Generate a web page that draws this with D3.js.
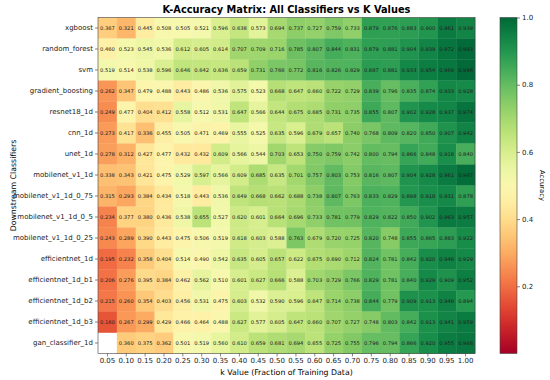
<!DOCTYPE html>
<html>
<head>
<meta charset="utf-8">
<script src="https://cdn.jsdelivr.net/npm/d3@7"></script>
<style>
  body { margin: 0; background: #fff; }
  text { font-family: "DejaVu Sans", sans-serif; }
</style>
</head>
<body>
<div id="chart"></div>
<script>
var classifiers = ['xgboost', 'random_forest', 'svm', 'gradient_boosting', 'resnet18_1d', 'cnn_1d', 'unet_1d',
  'mobilenet_v1_1d', 'mobilenet_v1_1d_0_75', 'mobilenet_v1_1d_0_5', 'mobilenet_v1_1d_0_25',
  'efficientnet_1d', 'efficientnet_1d_b1', 'efficientnet_1d_b2', 'efficientnet_1d_b3', 'gan_classifier_1d']

var kValues = ['0.05', '0.10', '0.15', '0.20', '0.25', '0.30', '0.35', '0.40', '0.45', '0.50',
  '0.55', '0.60', '0.65', '0.70', '0.75', '0.80', '0.85', '0.90', '0.95', '1.00']

var accuracy = [
  [0.367, 0.321, 0.445, 0.508, 0.505, 0.521, 0.596, 0.638, 0.573, 0.694, 0.737, 0.727, 0.759, 0.733, 0.879, 0.876, 0.883, 0.900, 0.961, 0.939],
  [0.460, 0.523, 0.545, 0.536, 0.612, 0.605, 0.614, 0.707, 0.709, 0.716, 0.785, 0.807, 0.844, 0.831, 0.879, 0.881, 0.904, 0.939, 0.972, 0.993],
  [0.519, 0.514, 0.538, 0.596, 0.646, 0.642, 0.636, 0.659, 0.731, 0.766, 0.772, 0.816, 0.826, 0.829, 0.887, 0.881, 0.933, 0.954, 0.969, 0.996],
  [0.262, 0.347, 0.479, 0.488, 0.443, 0.486, 0.536, 0.575, 0.523, 0.668, 0.647, 0.660, 0.722, 0.729, 0.839, 0.796, 0.835, 0.874, 0.933, 0.928],
  [0.249, 0.477, 0.404, 0.412, 0.558, 0.512, 0.531, 0.647, 0.566, 0.644, 0.675, 0.685, 0.731, 0.735, 0.855, 0.807, 0.902, 0.928, 0.937, 0.974],
  [0.273, 0.417, 0.336, 0.455, 0.505, 0.471, 0.469, 0.555, 0.525, 0.635, 0.596, 0.679, 0.657, 0.740, 0.768, 0.809, 0.820, 0.850, 0.907, 0.942],
  [0.278, 0.312, 0.427, 0.477, 0.432, 0.432, 0.609, 0.566, 0.544, 0.703, 0.653, 0.750, 0.759, 0.742, 0.800, 0.794, 0.866, 0.848, 0.918, 0.840],
  [0.338, 0.343, 0.421, 0.475, 0.529, 0.597, 0.566, 0.609, 0.685, 0.635, 0.701, 0.757, 0.803, 0.753, 0.816, 0.807, 0.904, 0.928, 0.961, 0.987],
  [0.315, 0.293, 0.384, 0.434, 0.518, 0.443, 0.536, 0.649, 0.668, 0.662, 0.688, 0.738, 0.807, 0.763, 0.833, 0.829, 0.898, 0.918, 0.931, 0.878],
  [0.234, 0.377, 0.380, 0.436, 0.538, 0.655, 0.527, 0.620, 0.601, 0.664, 0.696, 0.733, 0.781, 0.779, 0.829, 0.822, 0.850, 0.902, 0.963, 0.957],
  [0.243, 0.289, 0.390, 0.443, 0.475, 0.506, 0.519, 0.618, 0.603, 0.588, 0.763, 0.679, 0.720, 0.725, 0.820, 0.748, 0.855, 0.865, 0.883, 0.922],
  [0.195, 0.232, 0.358, 0.404, 0.514, 0.490, 0.542, 0.635, 0.605, 0.657, 0.622, 0.675, 0.690, 0.712, 0.824, 0.781, 0.842, 0.920, 0.946, 0.929],
  [0.206, 0.276, 0.395, 0.384, 0.462, 0.562, 0.510, 0.601, 0.627, 0.666, 0.588, 0.703, 0.729, 0.766, 0.829, 0.781, 0.840, 0.929, 0.909, 0.952],
  [0.215, 0.260, 0.354, 0.403, 0.456, 0.531, 0.475, 0.603, 0.532, 0.590, 0.596, 0.647, 0.714, 0.738, 0.844, 0.779, 0.909, 0.913, 0.946, 0.894],
  [0.160, 0.267, 0.299, 0.429, 0.466, 0.464, 0.488, 0.627, 0.577, 0.605, 0.647, 0.660, 0.707, 0.727, 0.748, 0.803, 0.842, 0.913, 0.941, 0.959],
  [null, 0.360, 0.375, 0.362, 0.501, 0.519, 0.560, 0.610, 0.659, 0.681, 0.694, 0.655, 0.725, 0.755, 0.796, 0.794, 0.866, 0.920, 0.955, 0.968]
]

var colorTicks = [0.2, 0.4, 0.6, 0.8, 1.0]

var W = 550, H = 380
var mLeft = 98, mTop = 17.5, mRight = 475, mBottom = 353.5

var svg = d3.select('#chart').append('svg')
  .attr('width', W)
  .attr('height', H)

var x = d3.scaleBand().domain(kValues).range([mLeft, mRight])
var y = d3.scaleBand().domain(classifiers).range([mTop, mBottom])
var color = d3.scaleSequential(d3.interpolateRdYlGn).domain([0, 1])

var cells = []
accuracy.forEach(function(row, i) {
  row.forEach(function(v, j) {
    cells.push({ c: classifiers[i], k: kValues[j], v: v })
  })
})
var filled = cells.filter(function(d) { return d.v !== null })

svg.append('g')
  .selectAll('rect')
  .data(filled)
  .enter().append('rect')
  .attr('x', function(d) { return x(d.k) })
  .attr('y', function(d) { return y(d.c) })
  .attr('width', x.bandwidth() + 0.3)
  .attr('height', y.bandwidth() + 0.3)
  .attr('fill', function(d) { return color(d.v) })

svg.append('g')
  .selectAll('text')
  .data(filled)
  .enter().append('text')
  .attr('x', function(d) { return x(d.k) + x.bandwidth() / 2 })
  .attr('y', function(d) { return y(d.c) + y.bandwidth() / 2 })
  .attr('dy', '0.35em')
  .attr('text-anchor', 'middle')
  .attr('font-size', 5.2)
  .attr('fill', '#222')
  .text(function(d) { return d.v.toFixed(3) })

// frame
svg.append('rect')
  .attr('x', mLeft).attr('y', mTop)
  .attr('width', mRight - mLeft).attr('height', mBottom - mTop)
  .attr('fill', 'none').attr('stroke', '#444').attr('stroke-width', 0.6)

var xAxis = svg.append('g')
  .attr('transform', 'translate(0,' + mBottom + ')')
  .call(d3.axisBottom(x).tickSize(3).tickPadding(2))
var yAxis = svg.append('g')
  .attr('transform', 'translate(' + mLeft + ',0)')
  .call(d3.axisLeft(y).tickSize(3).tickPadding(2))

;[xAxis, yAxis].forEach(function(a) {
  a.select('.domain').remove()
  a.selectAll('text').attr('font-size', 7).attr('fill', '#222').style('font-family', '"DejaVu Sans", sans-serif')
  a.selectAll('line').attr('stroke', '#333').attr('stroke-width', 0.6)
})

svg.append('text')
  .attr('x', (mLeft + mRight) / 2)
  .attr('y', 13)
  .attr('text-anchor', 'middle')
  .attr('font-size', 9.8)
  .attr('font-weight', 'bold')
  .text('K-Accuracy Matrix: All Classifiers vs K Values')

svg.append('text')
  .attr('x', (mLeft + mRight) / 2)
  .attr('y', 375)
  .attr('text-anchor', 'middle')
  .attr('font-size', 7.8)
  .text('k Value (Fraction of Training Data)')

svg.append('text')
  .attr('transform', 'translate(16,' + ((mTop + mBottom) / 2) + ') rotate(-90)')
  .attr('text-anchor', 'middle')
  .attr('font-size', 7.8)
  .text('Downstream Classifiers')

// colorbar
var cbX = 500, cbW = 17
var defs = svg.append('defs')
var grad = defs.append('linearGradient')
  .attr('id', 'cbgrad')
  .attr('x1', 0).attr('y1', 1).attr('x2', 0).attr('y2', 0)
d3.range(0, 1.0001, 0.05).forEach(function(t) {
  grad.append('stop').attr('offset', t).attr('stop-color', color(t))
})
svg.append('rect')
  .attr('x', cbX).attr('y', mTop)
  .attr('width', cbW).attr('height', mBottom - mTop)
  .attr('fill', 'url(#cbgrad)')
  .attr('stroke', '#444').attr('stroke-width', 0.6)

var cy = d3.scaleLinear().domain([0, 1]).range([mBottom, mTop])
var cAxis = svg.append('g')
  .attr('transform', 'translate(' + (cbX + cbW) + ',0)')
  .call(d3.axisRight(cy).tickValues(colorTicks).tickFormat(d3.format('.1f')).tickSize(3).tickPadding(2))
cAxis.select('.domain').remove()
cAxis.selectAll('text').attr('font-size', 7).attr('fill', '#222').style('font-family', '"DejaVu Sans", sans-serif')
cAxis.selectAll('line').attr('stroke', '#333').attr('stroke-width', 0.6)

svg.append('text')
  .attr('transform', 'translate(540,' + ((mTop + mBottom) / 2) + ') rotate(90)')
  .attr('text-anchor', 'middle')
  .attr('font-size', 6.8)
  .text('Accuracy')
</script>
</body>
</html>
